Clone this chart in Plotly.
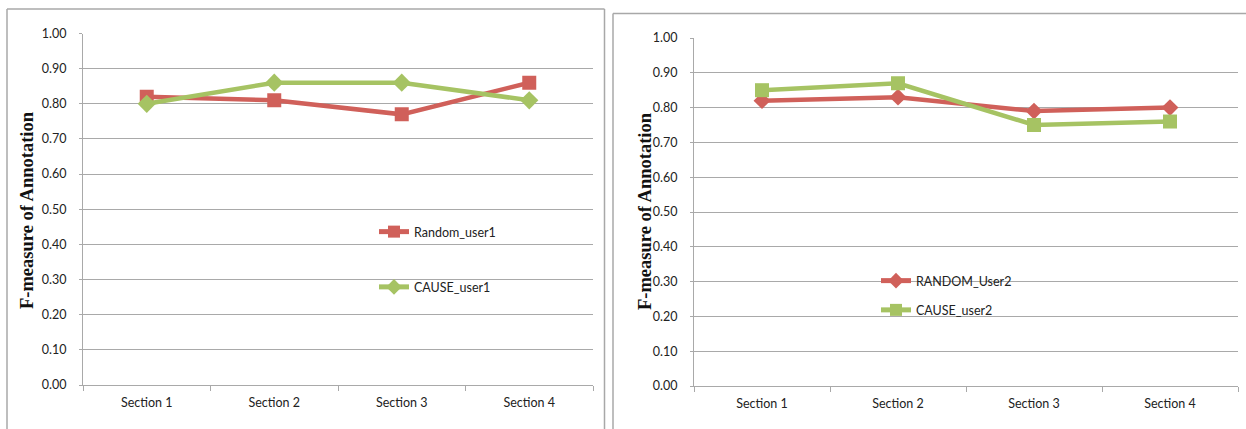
import plotly.graph_objects as go

# Figure size in pixels
W, H = 1246, 429

sections = ["Section 1", "Section 2", "Section 3", "Section 4"]

# Left panel series
random_user1 = [0.82, 0.81, 0.77, 0.86]
cause_user1 = [0.80, 0.86, 0.86, 0.81]

# Right panel series
random_user2 = [0.82, 0.83, 0.79, 0.80]
cause_user2 = [0.85, 0.87, 0.75, 0.76]

y_ticks = [0.0, 0.1, 0.2, 0.3, 0.4, 0.5, 0.6, 0.7, 0.8, 0.9, 1.0]

RED = "#D0605A"
GREEN = "#A6C363"
GRID = "#a9a9a9"
TICK_FONT = dict(family="Lato, Liberation Sans, sans-serif", size=12.5, color="#222222")


def px_x(x):
    return x / W


def px_y(y):
    return 1 - y / H


fig = go.Figure()

fig.add_trace(go.Scatter(
    x=sections, y=random_user1, name="Random_user1", mode="lines+markers",
    line=dict(color=RED, width=4.5), marker=dict(symbol="square", size=14, color=RED),
    xaxis="x", yaxis="y", legend="legend", legendgroup="a"))
fig.add_trace(go.Scatter(
    x=sections, y=cause_user1, name="CAUSE_user1", mode="lines+markers",
    line=dict(color=GREEN, width=4.5), marker=dict(symbol="diamond", size=14, color=GREEN),
    xaxis="x", yaxis="y", legend="legend", legendgroup="b"))
fig.add_trace(go.Scatter(
    x=sections, y=random_user2, name="RANDOM_User2", mode="lines+markers",
    line=dict(color=RED, width=4.5), marker=dict(symbol="diamond", size=13, color=RED),
    xaxis="x2", yaxis="y2", legend="legend2", legendgroup="c"))
fig.add_trace(go.Scatter(
    x=sections, y=cause_user2, name="CAUSE_user2", mode="lines+markers",
    line=dict(color=GREEN, width=4.5), marker=dict(symbol="square", size=14, color=GREEN),
    xaxis="x2", yaxis="y2", legend="legend2", legendgroup="d"))

xaxis_common = dict(
    type="category", range=[-0.5, 3.5], tickson="boundaries", ticks="outside", ticklen=5,
    tickcolor=GRID, showline=True, linecolor=GRID, linewidth=1.2,
    showgrid=False, tickfont=TICK_FONT, zeroline=False, automargin=False,
    ticklabelstandoff=6,
)
yaxis_common = dict(
    range=[0, 1], tickvals=y_ticks, tickformat=".2f", ticks="outside", ticklen=3,
    tickcolor=GRID, showline=True, linecolor=GRID, linewidth=1.2,
    showgrid=True, gridcolor=GRID, gridwidth=1.2, zeroline=False,
    tickfont=TICK_FONT, ticklabelstandoff=10, automargin=False,
)

legend_common = dict(
    orientation="v", xanchor="left", yanchor="top", bgcolor="rgba(0,0,0,0)",
    font=dict(family="Lato, Liberation Sans, sans-serif", size=12.5, color="#222222"),
    itemsizing="constant", borderwidth=0,
)

TITLE_FONT = dict(family="Liberation Serif, Times New Roman, serif", size=18.5, color="#111111")

fig.update_layout(
    width=W, height=H, autosize=False,
    margin=dict(l=0, r=0, t=0, b=0, pad=0, autoexpand=False),
    paper_bgcolor="white", plot_bgcolor="white",
    xaxis=dict(domain=[px_x(83), px_x(593)], anchor="y", **xaxis_common),
    yaxis=dict(domain=[px_y(385), px_y(33.5)], anchor="x", **yaxis_common),
    xaxis2=dict(domain=[px_x(694), px_x(1238)], anchor="y2", **xaxis_common),
    yaxis2=dict(domain=[px_y(386), px_y(38)], anchor="x2", **yaxis_common),
    legend=dict(x=px_x(374), y=px_y(217), tracegroupgap=36, **legend_common),
    legend2=dict(x=px_x(876), y=px_y(266), tracegroupgap=10, **legend_common),
    showlegend=True,
    annotations=[
        dict(text="<b>F-measure of Annotation</b>", textangle=-90,
             x=px_x(27), y=px_y(210), xref="paper", yref="paper",
             showarrow=False, xanchor="center", yanchor="middle", font=TITLE_FONT),
        dict(text="<b>F-measure of Annotation</b>", textangle=-90,
             x=px_x(645), y=px_y(211), xref="paper", yref="paper",
             showarrow=False, xanchor="center", yanchor="middle", font=TITLE_FONT),
    ],
    shapes=[
        # left panel frame
        dict(type="line", xref="paper", yref="paper", x0=px_x(7), x1=px_x(604.5), y0=px_y(9), y1=px_y(9),
             line=dict(color="#a8a8a8", width=1.5)),
        dict(type="line", xref="paper", yref="paper", x0=px_x(7), x1=px_x(7), y0=px_y(9), y1=0,
             line=dict(color="#a8a8a8", width=1.5)),
        dict(type="line", xref="paper", yref="paper", x0=px_x(604.5), x1=px_x(604.5), y0=px_y(9), y1=0,
             line=dict(color="#a8a8a8", width=1.5)),
        # right panel frame
        dict(type="line", xref="paper", yref="paper", x0=px_x(613), x1=1, y0=px_y(13.5), y1=px_y(13.5),
             line=dict(color="#a8a8a8", width=1.5)),
        dict(type="line", xref="paper", yref="paper", x0=px_x(613), x1=px_x(613), y0=px_y(13.5), y1=0,
             line=dict(color="#a8a8a8", width=1.5)),
    ],
)

fig.write_html("out.html")
